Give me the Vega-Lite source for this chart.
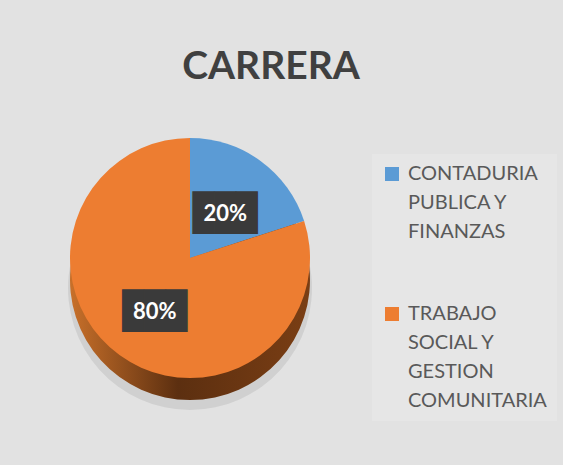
{
  "$schema": "https://vega.github.io/schema/vega-lite/v6.json",
  "autosize": "none",
  "width": 364,
  "height": 392,
  "padding": {"left": 8, "top": 62, "right": 191, "bottom": 11},
  "background": "#e2e2e2",
  "title": {"text": "CARRERA", "font": "Lato", "fontSize": 39, "fontWeight": "bold", "color": "#404040", "anchor": "middle", "dx": 81, "offset": -25},
  "config": {"view": {"stroke": null}},
  "data": {"values": [
    {"carrera": "CONTADURIA PUBLICA Y FINANZAS", "porcentaje": 0.2},
    {"carrera": "TRABAJO SOCIAL Y GESTION COMUNITARIA", "porcentaje": 0.8}
  ]},
  "encoding": {"theta": {"field": "porcentaje", "type": "quantitative", "stack": true}},
  "layer": [
    {"mark": {"type": "arc", "outerRadius": 122, "yOffset": 30, "fill": "#000000", "opacity": 0.08},
     "encoding": {"detail": {"field": "carrera"}}},
    {"mark": {"type": "arc", "outerRadius": 120, "yOffset": 22,
      "fill": {"gradient": "linear", "x1": 0, "y1": 0, "x2": 1, "y2": 0,
        "stops": [{"offset": 0, "color": "#c8702a"}, {"offset": 0.45, "color": "#5c2f10"}, {"offset": 1, "color": "#7a3e14"}]}},
     "encoding": {"detail": {"field": "carrera"}}},
    {"mark": {"type": "arc", "outerRadius": 120},
     "encoding": {"color": {"field": "carrera", "type": "nominal",
       "scale": {"range": ["#5b9bd5", "#ed7d31"]},
       "legend": {"title": null, "orient": "none", "legendX": 364, "legendY": 92,
         "symbolType": "square", "symbolSize": 196, "symbolStrokeWidth": 0, "symbolOpacity": 1,
         "labelFont": "Lato", "labelFontSize": 20, "labelColor": "#595959",
         "labelLimit": 220, "labelOffset": 6, "fillColor": "#e6e6e6", "padding": 10, "rowPadding": 62,
         "encode": {"labels": {"update": {"lineHeight": {"value": 29}}}},
         "labelExpr": "datum.label == 'CONTADURIA PUBLICA Y FINANZAS' ? ['CONTADURIA', 'PUBLICA Y', 'FINANZAS'] : ['TRABAJO', 'SOCIAL Y', 'GESTION', 'COMUNITARIA']"}}}},
    {"mark": {"type": "text", "radius": 60, "dy": 5, "text": "███", "font": "DejaVu Sans Mono", "fontSize": 36, "color": "#3a3a3a"},
     "encoding": {"detail": {"field": "carrera"}}},
    {"mark": {"type": "text", "radius": 60, "dy": 5, "font": "Lato", "fontSize": 22, "fontWeight": "bold", "color": "#ffffff"},
     "encoding": {"detail": {"field": "carrera"}, "text": {"field": "porcentaje", "type": "quantitative", "format": ".0%"}}}
  ]
}
